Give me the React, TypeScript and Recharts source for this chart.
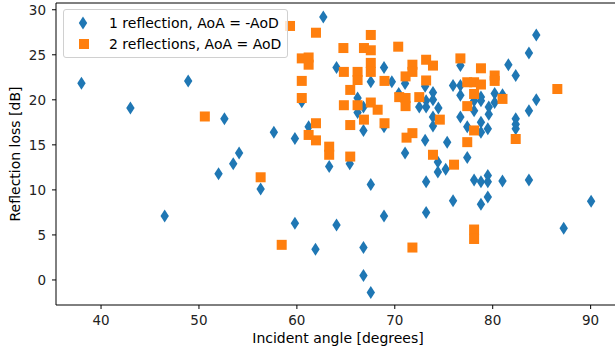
import React from 'react';
import { ScatterChart, Scatter, XAxis, YAxis, ReferenceLine } from 'recharts';

// 1 reflection, AoA = -AoD
const oneReflectionAngle = [
  38.0, 43.0, 46.5, 48.9, 52.0, 52.6, 53.5, 54.1, 56.3, 57.65, 59.8, 59.8, 60.5, 61.2, 61.9, 62.7,
  63.3, 64.05, 64.05, 65.4, 66.2, 66.2, 66.8, 66.8, 66.8, 66.8, 67.55, 67.55, 67.55, 68.9, 68.9, 68.9,
  69.7, 70.4, 71.05, 71.05, 72.5, 73.1, 73.2, 73.2, 73.1, 73.2, 73.2, 73.9, 73.9, 73.9, 73.9, 74.45,
  74.4, 74.4, 75.2, 75.35, 75.95, 75.95, 76.7, 76.7, 76.7, 76.7, 77.4, 77.4, 78.1, 78.1, 78.1, 78.8,
  78.8, 78.8, 78.8, 78.8, 78.8, 79.5, 79.5, 79.5, 79.5, 79.6, 79.6, 80.2, 80.2, 81.0, 81.0, 81.6,
  82.35, 82.35, 82.35, 82.35, 83.7, 83.7, 83.7, 84.45, 84.45, 87.25, 90.05,
];
const oneReflectionLoss = [
  21.85, 19.1, 7.1, 22.1, 11.8, 17.9, 12.9, 14.1, 10.1, 16.4, 15.7, 6.3, 19.8, 17.0, 3.4, 29.2,
  12.6, 23.6, 6.1, 12.9, 20.2, 18.6, 19.2, 16.6, 3.6, 0.5, -1.4, 22.0, 10.6, 23.6, 17.0, 7.1,
  22.0, 20.7, 21.8, 14.1, 19.2, 21.5, 19.9, 19.2, 15.5, 10.9, 7.5, 20.8, 20.0, 18.1, 17.1, 19.1,
  13.1, 12.0, 12.3, 15.3, 21.6, 8.8, 23.8, 21.6, 20.5, 18.1, 17.0, 13.6, 19.9, 18.8, 11.1, 20.3,
  19.9, 17.5, 16.4, 10.9, 8.4, 16.8, 11.6, 10.9, 9.2, 19.2, 18.4, 20.7, 19.7, 20.55, 11.0, 23.9,
  22.7, 17.9, 17.3, 16.8, 25.2, 18.8, 11.1, 27.2, 20.0, 5.75, 8.75,
];

// 2 reflections, AoA = AoD
const twoReflectionAngle = [
  50.6, 56.3, 58.45, 59.3, 60.5, 60.5, 60.5, 61.2, 61.2, 61.2, 61.95, 61.95, 61.95, 63.3, 63.3, 64.75,
  64.8, 64.8, 65.45, 65.45, 65.45, 66.2, 66.2, 66.2, 66.85, 66.85, 67.55, 67.55, 67.55, 67.55, 67.55, 68.25,
  68.95, 68.95, 70.35, 70.45, 71.1, 71.1, 71.1, 71.2, 71.8, 71.8, 71.8, 71.8, 72.5, 73.2, 73.2, 73.9,
  73.9, 74.6, 76.05, 76.7, 77.4, 77.4, 77.4, 78.1, 78.1, 78.1, 78.1, 78.1, 78.8, 78.8, 80.2, 80.2,
  81.0, 82.35, 86.6,
];
const twoReflectionLoss = [
  18.15, 11.4, 3.9, 28.2, 24.6, 22.1, 20.2, 24.7, 23.9, 16.1, 27.45, 17.4, 15.5, 14.8, 13.9, 25.75,
  23.1, 19.4, 21.1, 17.2, 13.7, 23.1, 22.2, 19.4, 25.75, 17.8, 27.2, 25.5, 24.1, 23.1, 19.7, 18.9,
  22.1, 17.4, 25.9, 20.3, 22.6, 20.2, 19.3, 15.8, 23.9, 23.1, 16.3, 3.6, 20.3, 24.45, 22.15, 23.8,
  13.9, 17.8, 12.8, 24.6, 21.95, 19.3, 15.3, 21.95, 20.65, 16.6, 5.6, 4.55, 23.5, 21.7, 22.7, 22.1,
  20.1, 15.65, 21.2,
];

const xTicks = [40, 50, 60, 70, 80, 90];
const yTicks = [0, 5, 10, 15, 20, 25, 30];

const oneReflection = oneReflectionAngle.map((x, i) => ({ x, y: oneReflectionLoss[i] }));
const twoReflections = twoReflectionAngle.map((x, i) => ({ x, y: twoReflectionLoss[i] }));

const BLUE = '#1f77b4';
const ORANGE = '#ff7f0e';
const FONT = '"DejaVu Sans", sans-serif';
const Y_MAX = 30.75;

const diamondPath = (cx: number, cy: number) =>
  `M${cx},${cy - 6.5} L${cx + 4.2},${cy} L${cx},${cy + 6.5} L${cx - 4.2},${cy} Z`;

const Diamond = (props: any) => {
  const { cx, cy } = props;
  if (cx == null || cy == null) return null;
  return <path d={diamondPath(cx, cy)} fill={BLUE} />;
};

const Square = (props: any) => {
  const { cx, cy } = props;
  if (cx == null || cy == null) return null;
  return <rect x={cx - 5} y={cy - 5} width={10} height={10} fill={ORANGE} />;
};

const XLabel = () => (
  <text x={338} y={343} textAnchor="middle" fontSize={14} fill="#000" fontFamily={FONT}>
    Incident angle [degrees]
  </text>
);

const YLabel = () => (
  <text
    x={15}
    y={154}
    transform="rotate(-90 15 154)"
    textAnchor="middle"
    dominantBaseline="central"
    fontSize={14}
    fill="#000"
    fontFamily={FONT}
  >
    Reflection loss [dB]
  </text>
);

const Legend = () => (
  <div
    style={{
      position: 'absolute',
      left: 63,
      top: 9,
      width: 223,
      height: 47,
      border: '1px solid #d0d0d0',
      borderRadius: 3,
      background: 'rgba(255,255,255,0.8)',
    }}
  >
    <svg width={223} height={47} style={{ position: 'absolute', left: 0, top: 0 }}>
      <path d={diamondPath(19, 13)} fill={BLUE} />
      <rect x={15} y={29} width={10} height={10} fill={ORANGE} />
      <text x={45} y={13} dominantBaseline="central" fontSize={14} fontFamily={FONT} fill="#000">
        1 reflection, AoA = -AoD
      </text>
      <text x={45} y={34} dominantBaseline="central" fontSize={14} fontFamily={FONT} fill="#000">
        2 reflections, AoA = AoD
      </text>
    </svg>
  </div>
);

export default function App() {
  return (
    <div
      style={{
        position: 'absolute',
        left: 0,
        top: 0,
        width: 615,
        height: 356,
        overflow: 'hidden',
        background: '#fff',
      }}
    >
      <ScatterChart width={630} height={356} margin={{ top: 3, right: 10, bottom: 0, left: 0 }}>
        <XAxis
          type="number"
          dataKey="x"
          domain={[35.4, 93]}
          ticks={xTicks}
          allowDataOverflow
          height={51}
          tickSize={4}
          tickMargin={6}
          stroke="#000"
          tick={{ fontSize: 13.5, fill: '#222', fontFamily: FONT }}
          label={XLabel}
        />
        <YAxis
          type="number"
          dataKey="y"
          domain={[-2.78, Y_MAX]}
          ticks={yTicks}
          allowDataOverflow
          width={56}
          tickSize={4}
          tickMargin={6}
          stroke="#000"
          tick={{ fontSize: 13.5, fill: '#222', fontFamily: FONT }}
          label={YLabel}
        />
        <ReferenceLine y={Y_MAX} stroke="#000" />
        <Scatter data={oneReflection} shape={Diamond} isAnimationActive={false} />
        <Scatter data={twoReflections} shape={Square} isAnimationActive={false} />
      </ScatterChart>
      <Legend />
    </div>
  );
}
